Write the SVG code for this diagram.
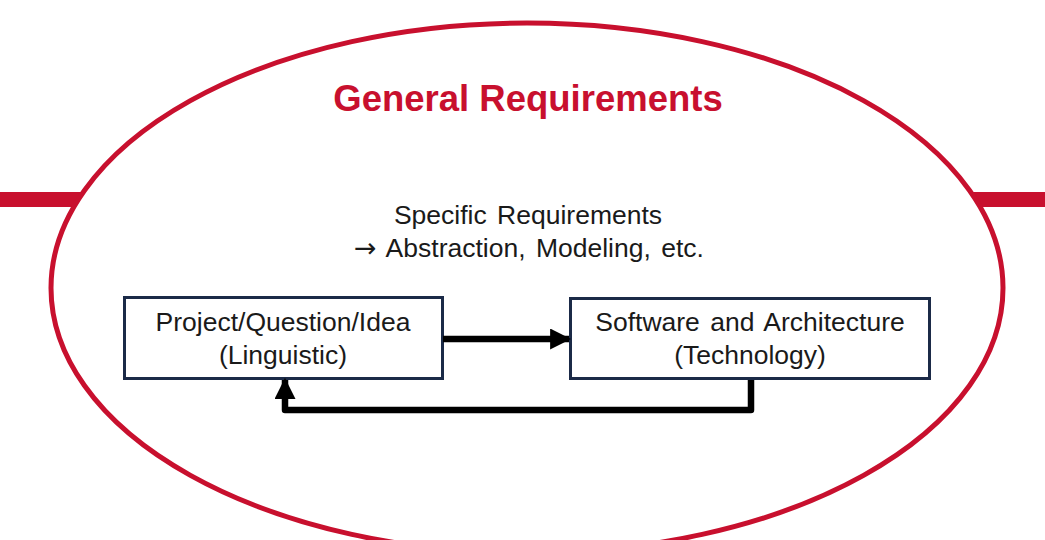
<svg xmlns="http://www.w3.org/2000/svg" width="1045" height="540" viewBox="0 0 1045 540">
  <defs>
    <style>
      .band { fill: #C8102E; }
      .frame { fill: #FFFFFF; stroke: #C8102E; stroke-width: 5; }
      .title { font-family: "Liberation Sans", Arial, sans-serif; font-weight: bold; font-size: 36.5px; fill: #C8102E; text-anchor: middle; }
      .label { font-family: "Liberation Sans", Arial, sans-serif; font-size: 26.5px; word-spacing: 3px; fill: #1A1A1A; text-anchor: middle; }
      .glyph { font-family: "DejaVu Sans", sans-serif; font-size: 27px; }
      .box { fill: #FFFFFF; stroke: #1B2A47; stroke-width: 3; }
      .flow { fill: none; stroke: #000000; stroke-width: 6.5; stroke-linejoin: round; }
    </style>
    <marker id="head" viewBox="0 0 10 10" refX="9" refY="5" markerWidth="21" markerHeight="21" markerUnits="userSpaceOnUse" orient="auto">
      <path d="M0,0 L10,5 L0,10 Z" fill="#000000"/>
    </marker>
  </defs>

  <!-- horizontal band behind the outer ellipse -->
  <rect class="band" x="0" y="192" width="1045" height="15"/>

  <!-- outer scope: general requirements -->
  <g id="general">
    <ellipse class="frame" cx="527" cy="288" rx="476" ry="265"/>
    <text class="title" x="528" y="111">General Requirements</text>
  </g>

  <g id="specific">
    <text class="label" x="528" y="224">Specific Requirements</text>
    <text class="label" x="529" y="257"><tspan class="glyph">→</tspan> Abstraction, Modeling, etc.</text>
  </g>

  <g id="project">
    <rect class="box" x="124.5" y="297.5" width="318" height="81"/>
    <text class="label" x="283" y="331">Project/Question/Idea</text>
    <text class="label" x="283" y="364">(Linguistic)</text>
  </g>

  <g id="software">
    <rect class="box" x="570.5" y="298.5" width="359" height="80"/>
    <text class="label" x="750" y="331">Software and Architecture</text>
    <text class="label" x="750" y="364">(Technology)</text>
  </g>

  <g id="connectors">
    <path class="flow" d="M443,339 L569,339" marker-end="url(#head)"/>
    <path class="flow" d="M751,380 L751,410 L285,410 L285,380" marker-end="url(#head)"/>
  </g>
</svg>
